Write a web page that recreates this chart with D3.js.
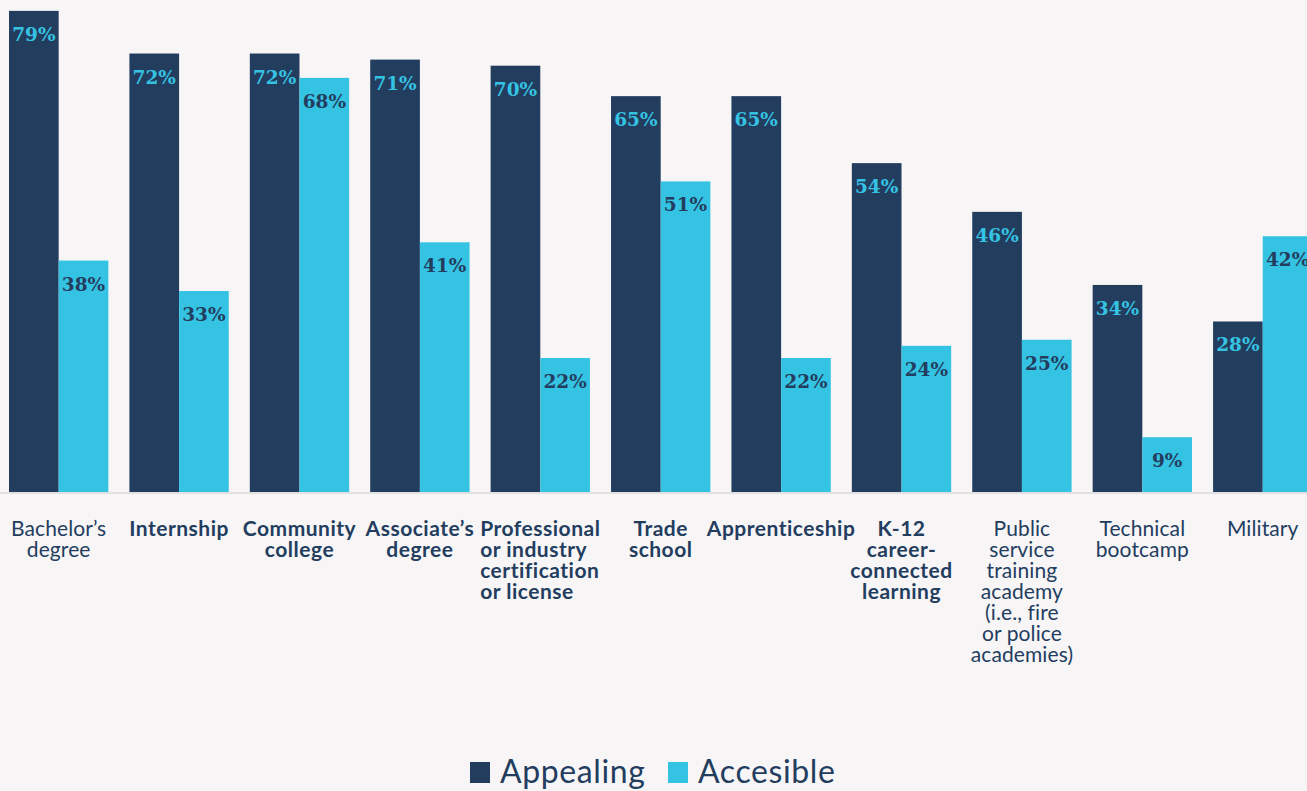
<!DOCTYPE html>
<html>
<head>
<meta charset="utf-8">
<script src="https://cdn.jsdelivr.net/npm/d3@7"></script>
<style>
  html, body { margin: 0; padding: 0; background: #f7f5f6; }
  svg { display: block; }
</style>
</head>
<body>
<script>
// SET UP DIMENSIONS
var w = 1307,
    h = 791;

var baseY = 492;

// the data
var categories = [
  "Bachelor's degree", 'Internship', 'Community college', "Associate's degree",
  'Professional or industry certification or license', 'Trade school',
  'Apprenticeship', 'K-12 career-connected learning',
  'Public service training academy (i.e., fire or police academies)',
  'Technical bootcamp', 'Military'
];

// how each category label wraps
var labelLines = [
  ['Bachelor\u2019s', 'degree'],
  ['Internship'],
  ['Community', 'college'],
  ['Associate\u2019s', 'degree'],
  ['Professional', 'or industry', 'certification', 'or license'],
  ['Trade', 'school'],
  ['Apprenticeship'],
  ['K-12', 'career-', 'connected', 'learning'],
  ['Public', 'service', 'training', 'academy', '(i.e., fire', 'or police', 'academies)'],
  ['Technical', 'bootcamp'],
  ['Military']
];

var labelBold = [false, true, true, true, true, true, true, true, false, false, false];
// 'start' = lines left aligned inside a centred block
var labelAlign = ['middle', 'middle', 'middle', 'middle', 'start', 'middle', 'middle', 'middle', 'middle', 'middle', 'middle'];

var seriesNames = ['Appealing', 'Accesible'];
var appealing = [79, 72, 72, 71, 70, 65, 65, 54, 46, 34, 28];
var accesible = [38, 33, 68, 41, 22, 51, 22, 24, 25, 9, 42];

var colors = { Appealing: '#233d5f', Accesible: '#35c3e3' };
var labelColors = { Appealing: '#35c3e3', Accesible: '#233d5f' };

var rows = categories.map(function(c, i) {
  return { cat: c, values: [
    { key: 'Appealing', value: appealing[i] },
    { key: 'Accesible', value: accesible[i] }
  ]};
});

// CREATE SVG
var svg = d3.select('body').append('svg')
  .attr('width', w)
  .attr('height', h);

// SET UP SCALES
var x0 = d3.scaleBand()
  .domain(categories)
  .range([9, 1312.4])
  .paddingInner(0.175)
  .paddingOuter(0);

var x1 = d3.scaleBand()
  .domain(seriesNames)
  .range([0, x0.bandwidth()])
  .padding(0);

var y = d3.scaleLinear()
  .domain([0, 100])
  .range([baseY, baseY - 609]);

// DRAW BARS
var groups = svg.append('g').selectAll('g')
  .data(rows)
  .enter().append('g')
    .attr('transform', function(d) { return translation(x0(d.cat), 0); });

groups.selectAll('rect')
  .data(function(d) { return d.values; })
  .enter().append('rect')
    .attr('x', function(d) { return x1(d.key); })
    .attr('y', function(d) { return y(d.value); })
    .attr('width', x1.bandwidth())
    .attr('height', function(d) { return y(0) - y(d.value); })
    .attr('fill', function(d) { return colors[d.key]; });

groups.selectAll('text')
  .data(function(d) { return d.values; })
  .enter().append('text')
    .attr('x', function(d) { return x1(d.key) + x1.bandwidth() / 2; })
    .attr('y', function(d) { return y(d.value) + 30; })
    .attr('text-anchor', 'middle')
    .style('font-family', '"DejaVu Serif", Georgia, serif')
    .style('font-weight', 'bold')
    .style('font-size', '18.5px')
    .attr('fill', function(d) { return labelColors[d.key]; })
    .text(function(d) { return d.value + '%'; });

// baseline
svg.append('line')
  .attr('x1', 0)
  .attr('x2', w)
  .attr('y1', baseY + 1)
  .attr('y2', baseY + 1)
  .attr('stroke', '#dadada')
  .attr('stroke-width', 1.5);

// CATEGORY LABELS
categories.forEach(function(c, i) {
  var cx = x0(c) + x0.bandwidth() / 2;
  var t = svg.append('text')
    .attr('text-anchor', labelAlign[i])
    .style('font-family', 'Lato, "Noto Sans", sans-serif')
    .style('font-weight', labelBold[i] ? 'bold' : 'normal')
    .style('font-size', '21px')
    .style('letter-spacing', labelBold[i] ? '0.5px' : '0.1px')
    .attr('fill', '#233d5f');
  var spans = t.selectAll('tspan')
    .data(labelLines[i])
    .enter().append('tspan')
      .attr('x', cx)
      .attr('y', function(d, j) { return 536 + j * 21; })
      .text(function(d) { return d; });
  if (labelAlign[i] === 'start') {
    var maxW = 0;
    spans.each(function() { maxW = Math.max(maxW, this.getComputedTextLength()); });
    spans.attr('x', cx - maxW / 2);
  }
});

// LEGEND
var legend = svg.append('g')
  .attr('transform', translation(470, 762));

var legendItems = legend.selectAll('g')
  .data(seriesNames)
  .enter().append('g')
    .attr('transform', function(d, i) { return translation(i * 198, 0); });

legendItems.append('rect')
  .attr('width', 20)
  .attr('height', 21)
  .attr('fill', function(d) { return colors[d]; });

legendItems.append('text')
  .attr('x', 30)
  .attr('y', 21)
  .style('font-family', 'Lato, "Noto Sans", sans-serif')
  .style('font-size', '32px')
  .style('letter-spacing', '0.6px')
  .attr('fill', '#233d5f')
  .text(function(d) { return d; });

function translation(x, y) {
  return 'translate(' + x + ',' + y + ')';
}
</script>
</body>
</html>
